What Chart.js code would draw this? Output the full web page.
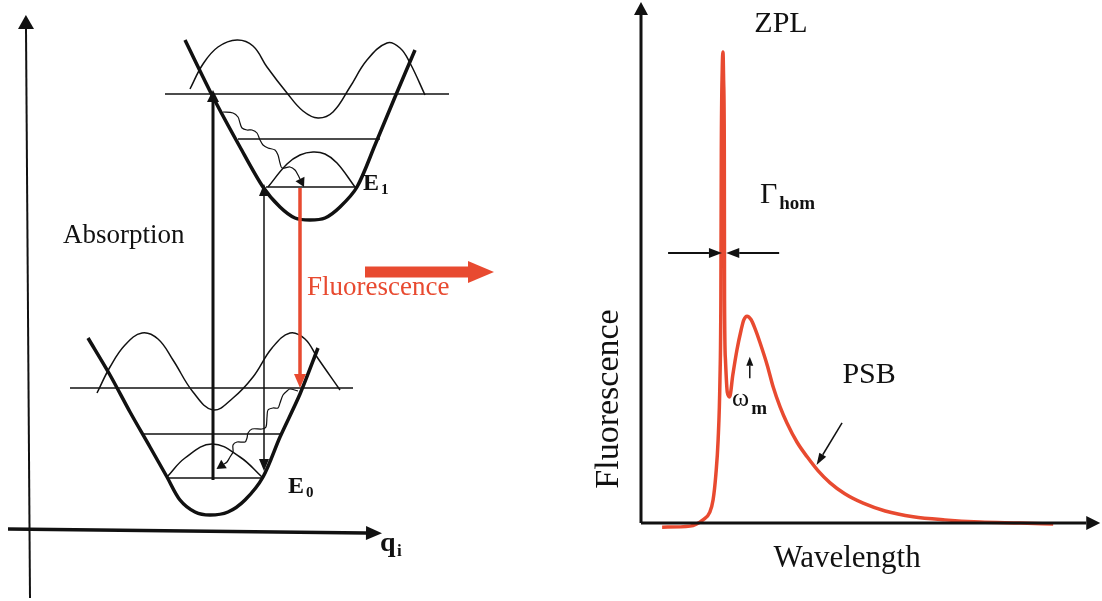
<!DOCTYPE html>
<html>
<head>
<meta charset="utf-8">
<script src="https://cdn.jsdelivr.net/npm/chart.js@4.4.1/dist/chart.umd.min.js"></script>
<style>
  html, body { margin: 0; padding: 0; background: #fff; overflow: hidden; }
  #levels { position: absolute; left: 0; top: 0; }
  #spectrum { position: absolute; left: 560px; top: 0; }
</style>
</head>
<body>
<canvas id="levels" width="560" height="601"></canvas>
<canvas id="spectrum" width="542" height="601"></canvas>
<script>
// ---- left panel: configuration coordinate diagram (q, E in drawing units) ----
const upperWell = [[185,40],[213,97],[240,147],[263,187],[280,207],[295,218],[310,220],[325,218],[340,207],[357,187],[375,145],[395,97],[415,50]];
const lowerWell = [[88,338],[110,375],[130,412],[150,447],[167,477],[180,500],[195,512],[210,515],[228,512],[245,500],[263,477],[280,437],[300,394],[318,348]];

const levelE    = [94, 139, 187, 388, 434, 478];
const levelFrom = [165, 238, 266, 70, 142, 167];
const levelTo   = [449, 380, 357, 353, 280, 262];

const upperWave1 = [[268,187],[287,164],[300,155],[313,152],[325,154],[337,163],[355,187]];
const upperWave2 = [[190,89],[203,64],[218,47],[237,40],[253,46],[267,67],[287,93],[303,111],[318,118],[333,112],[350,87],[367,60],[387,43],[400,48],[410,63],[425,95]];
const lowerWave1 = [[167,477],[185,458],[212,444],[240,457],[262,477]];
const lowerWave2 = [[97,393],[110,367],[125,345],[142,333],[158,339],[173,360],[193,392],[213,410],[233,398],[253,377],[272,348],[290,333],[305,339],[317,357],[340,390]];

const relaxUpper = [[223,112],[233,113],[238,117],[240,123],[242,128],[247,130],[252,130],[257,133],[260,140],[263,145],[268,148],[275,150],[278,155],[280,163],[282,168],[290,167],[295,170],[298,175],[300,179]];
const relaxLower = [[298,391],[290,389],[287,391],[283,395],[280,403],[278,408],[273,408],[268,410],[267,417],[266,427],[262,429],[252,429],[248,433],[247,438],[245,442],[237,442],[233,445],[233,452],[230,457],[227,462],[224,464]];

const absorptionArrow = [[213,480],[213,102]];
const emissionThin    = [[264,459],[264,196]];
const fluorArrow      = [[300,188],[300,374]];
const bigArrow        = [[365,272],[468,272]];
const qAxis           = [[8,529],[366,533]];
const eAxis           = [[30,598],[26,29]];

// ---- right panel: emission spectrum (arbitrary units) ----
const wavelength   = [4.6, 10.7, 13.5, 15.0, 15.7, 16.3, 16.8, 17.2, 17.4, 17.5, 17.7, 17.86, 18.0, 18.15, 18.2, 18.4, 18.8, 19.3, 20.0, 20.9, 21.8, 22.4, 23.1, 24.0, 24.8, 25.9, 27.5, 28.8, 30.3, 31.8, 34.0, 36.2, 38.6, 41.2, 44.4, 48.4, 53.2, 59.3, 66.2, 73.9, 82.6, 89.8];
const fluorescence = [-0.8, -0.6, 0.6, 2.1, 4.4, 9.2, 15.9, 27.4, 42.8, 71.6, 87.0, 90.4, 85.0, 71.6, 42.8, 31.3, 25.1, 24.2, 28.4, 33.2, 37.0, 39.0, 39.7, 39.0, 37.4, 34.7, 30.3, 26.1, 22.3, 19.2, 15.5, 12.7, 10.0, 7.7, 5.6, 3.8, 2.3, 1.2, 0.6, 0.2, 0, -0.2];

const wlAxis     = [[0,0],[97,0]];
const flAxis     = [[0,0],[0,97.5]];
const gammaLeft  = [[5.9,51.8],[14.8,51.8]];
const gammaRight = [[30.1,51.8],[21.4,51.8]];
const omegaMark  = [[23.7,27.8],[23.7,30.2]];
const psbPointer = [[43.8,19.2],[39.6,13.1]];

const INK = '#111111';
const RED = '#e84a30';

function pts(arr) { return arr.map(p => ({ x: p[0], y: p[1] })); }
function line(arr, extra) {
  return Object.assign({
    data: pts(arr), borderColor: INK, borderWidth: 1.5, pointRadius: 0,
    tension: 0, fill: false, clip: false
  }, extra || {});
}

function drawHead(ctx, from, to, head, color) {
  const dx = to.x - from.x, dy = to.y - from.y;
  const len = Math.hypot(dx, dy) || 1;
  const ux = dx / len, uy = dy / len;
  ctx.save();
  ctx.fillStyle = color;
  ctx.beginPath();
  ctx.moveTo(to.x + ux * head.len, to.y + uy * head.len);
  ctx.lineTo(to.x - uy * head.half, to.y + ux * head.half);
  ctx.lineTo(to.x + uy * head.half, to.y - ux * head.half);
  ctx.closePath();
  ctx.fill();
  ctx.restore();
}

const arrowHeads = {
  id: 'arrowHeads',
  afterDatasetsDraw(chart) {
    const ctx = chart.ctx;
    chart.data.datasets.forEach((ds, i) => {
      const p = chart.getDatasetMeta(i).data;
      if (ds.headEnd) drawHead(ctx, p[p.length - 2], p[p.length - 1], ds.headEnd, ds.borderColor);
      if (ds.headStart) drawHead(ctx, p[1], p[0], ds.headStart, ds.borderColor);
    });
  }
};

const textLabels = {
  id: 'textLabels',
  afterDatasetsDraw(chart, args, opts) {
    const ctx = chart.ctx, xs = chart.scales.x, ys = chart.scales.y;
    (opts.items || []).forEach(t => {
      ctx.save();
      ctx.font = t.font;
      ctx.fillStyle = t.color || INK;
      ctx.textAlign = t.align || 'left';
      ctx.textBaseline = 'alphabetic';
      ctx.translate(xs.getPixelForValue(t.x), ys.getPixelForValue(t.y));
      if (t.rotate) ctx.rotate(t.rotate * Math.PI / 180);
      ctx.fillText(t.text, 0, 0);
      ctx.restore();
    });
  }
};

function baseOptions(xr, yr, padding, items) {
  return {
    responsive: false,
    animation: false,
    events: [],
    layout: { padding: padding },
    scales: {
      x: { type: 'linear', min: xr[0], max: xr[1], display: false },
      y: { type: 'linear', min: yr[0], max: yr[1], reverse: yr[2] || false, display: false }
    },
    plugins: { legend: { display: false }, tooltip: { enabled: false }, textLabels: { items: items } }
  };
}

// left panel datasets
const levelSets = levelE.map((e, i) => line([[levelFrom[i], e], [levelTo[i], e]], { borderWidth: 1.4 }));

const SERIF = '"Liberation Serif", "DejaVu Serif", serif';

new Chart(document.getElementById('levels'), {
  type: 'line',
  data: {
    datasets: [
      line(eAxis, { borderWidth: 2, headEnd: { len: 14, half: 8 } }),
      line(qAxis, { borderWidth: 3.5, headEnd: { len: 16, half: 7 } }),
      line(fluorArrow, { borderColor: RED, borderWidth: 3.5, headEnd: { len: 14, half: 6 } }),
      line(bigArrow, { borderColor: RED, borderWidth: 11, headEnd: { len: 26, half: 11 } }),
      line(absorptionArrow, { borderWidth: 3, headEnd: { len: 12, half: 6 } }),
      line(emissionThin, { borderWidth: 1.5, headEnd: { len: 12, half: 5 }, headStart: { len: 12, half: 5 } }),
      line(relaxUpper, { borderWidth: 1.2, tension: 0.3, headEnd: { len: 9, half: 5 } }),
      line(relaxLower, { borderWidth: 1.2, tension: 0.3, headEnd: { len: 9, half: 5 } }),
      line(upperWell, { borderWidth: 3.5, tension: 0.3 }),
      line(lowerWell, { borderWidth: 3.5, tension: 0.3 }),
      line(upperWave1, { tension: 0.4 }),
      line(upperWave2, { tension: 0.4 }),
      line(lowerWave1, { tension: 0.4 }),
      line(lowerWave2, { tension: 0.4 })
    ].concat(levelSets)
  },
  options: baseOptions([0, 560], [0, 601, true], 0, [
    { text: 'Absorption', x: 63, y: 243, font: '27px ' + SERIF },
    { text: 'Fluorescence', x: 307, y: 295, font: '27px ' + SERIF, color: RED },
    { text: 'E', x: 363, y: 190, font: 'bold 24px ' + SERIF },
    { text: '1', x: 381, y: 194, font: 'bold 15px ' + SERIF },
    { text: 'E', x: 288, y: 493, font: 'bold 24px ' + SERIF },
    { text: '0', x: 306, y: 497, font: 'bold 15px ' + SERIF },
    { text: 'q', x: 380, y: 551, font: 'bold 28px ' + SERIF },
    { text: 'i', x: 397, y: 556, font: 'bold 17px ' + SERIF }
  ]),
  plugins: [arrowHeads, textLabels]
});

// right panel
new Chart(document.getElementById('spectrum'), {
  type: 'line',
  data: {
    datasets: [
      line(wlAxis, { borderWidth: 3, headEnd: { len: 14, half: 7 } }),
      line(flAxis, { borderWidth: 3, headEnd: { len: 13, half: 7 } }),
      line(gammaLeft, { borderWidth: 2, headEnd: { len: 13, half: 5 } }),
      line(gammaRight, { borderWidth: 2, headEnd: { len: 13, half: 5 } }),
      line(omegaMark, { borderWidth: 1.5, headEnd: { len: 9, half: 3.5 } }),
      line(psbPointer, { borderWidth: 1.5, headEnd: { len: 12, half: 4 } }),
      {
        data: wavelength.map((w, i) => ({ x: w, y: fluorescence[i] })),
        borderColor: RED, borderWidth: 3.5, pointRadius: 0, fill: false, clip: false,
        cubicInterpolationMode: 'monotone'
      }
    ]
  },
  options: baseOptions([0, 100], [0, 100], { left: 81, right: 2, top: 2, bottom: 78 }, [
    { text: 'ZPL', x: 30.5, y: 94.2, font: '30px ' + SERIF, align: 'center' },
    { text: 'Γ', x: 25.9, y: 61.4, font: '30px ' + SERIF },
    { text: 'hom', x: 30.1, y: 60.3, font: 'bold 19px ' + SERIF },
    { text: 'ω', x: 19.8, y: 22.5, font: '26px ' + SERIF },
    { text: 'm', x: 24.0, y: 20.9, font: 'bold 19px ' + SERIF },
    { text: 'PSB', x: 49.7, y: 26.9, font: '30px ' + SERIF, align: 'center' },
    { text: 'Wavelength', x: 44.9, y: -8.4, font: '31px ' + SERIF, align: 'center' },
    { text: 'Fluorescence', x: -5.0, y: 23.8, font: '34px ' + SERIF, align: 'center', rotate: -90 }
  ]),
  plugins: [arrowHeads, textLabels]
});
</script>
</body>
</html>
